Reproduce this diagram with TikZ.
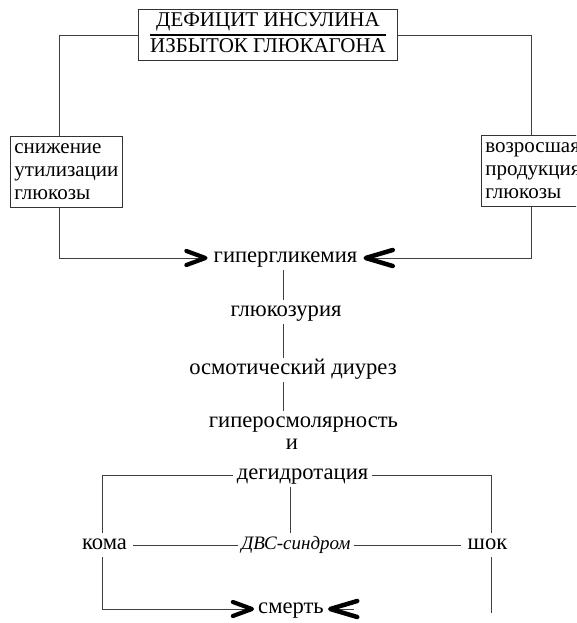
\documentclass[tikz,border=0pt]{standalone}
\usepackage{fontspec}
\setmainfont{Liberation Serif}
\usetikzlibrary{arrows.meta}
\begin{document}
\begin{tikzpicture}[x=1pt,y=-1pt,
  every node/.style={font=\fontsize{22.6}{24}\selectfont},
  conn/.style={draw=black!75,line width=0.8pt},
  chev/.style={-{Straight Barb[length=19pt,width=14pt,line width=4.2pt,round,color=black]}},
  chevb/.style={-{Straight Barb[length=27pt,width=16pt,line width=4.5pt,round,color=black]}},
  txt/.style={inner xsep=6pt,inner ysep=7pt,text height=9.5pt,text depth=0pt},
  sidebox/.style={draw=black!80,line width=0.8pt,align=left,inner xsep=4pt,inner ysep=0pt,
    minimum height=71pt,anchor=north west,font=\fontsize{21}{23}\selectfont}]
\clip (0,0) rectangle (576,623);
\useasboundingbox (0,0) rectangle (576,623);
% nodes
\node[draw=black!80,line width=0.8pt,inner xsep=11.5pt,inner ysep=1pt,font=\fontsize{21}{23}\selectfont] (top) at (268,35)
  {\setlength{\arrayrulewidth}{2.6pt}\setlength{\tabcolsep}{0pt}\renewcommand{\arraystretch}{1.0}%
   \begin{tabular}{c}ДЕФИЦИТ ИНСУЛИНА\\\hline ИЗБЫТОК ГЛЮКАГОНА\end{tabular}};
\node[sidebox] (lbox) at (10,136) {\raisebox{-2pt}{\parbox{104pt}{снижение\\утилизации\\глюкозы}}};
\node[sidebox,text width=115pt] (rbox) at (481,135) {\raisebox{-2pt}{\parbox{115pt}{возросшая\\продукция\\глюкозы}}};
\node[txt] (hyper) at (285.5,258) {гипергликемия};
\node[txt] (gluc) at (286,312) {глюкозурия};
\node[txt] (osm) at (293,370) {осмотический диурез};
\node[txt] (hosm) at (303.5,423) {гиперосмолярность};
\node[txt,inner ysep=2pt] (and) at (292,445) {и};
\node[txt,inner xsep=4pt] (dehyd) at (302.5,475) {дегидротация};
\node[txt] (koma) at (104.5,545) {кома};
\node[txt,inner xsep=3pt,font=\fontsize{19}{21}\selectfont\itshape] (dvs) at (296,545) {ДВС-синдром};
\node[txt] (shok) at (487.5,545) {шок};
\node[txt,inner xsep=4pt] (death) at (291,609) {смерть};
% helper coordinates
\coordinate (lx) at (59,0);
\coordinate (rx) at (531,0);
\coordinate (vx) at (283,0);
\coordinate (dx) at (290,0);
\coordinate (kx) at (102,0);
\coordinate (sx) at (491,0);
\coordinate (shokend) at (491,613);
\coordinate (deathr) at ([xshift=26pt]death.east);
% connectors
\draw[conn] (top.west) -| (lbox.north -| lx);
\draw[conn] (top.east) -| (rbox.north -| rx);
\draw[conn,chev] (lbox.south -| lx) |- (hyper.west);
\draw[conn,chevb] (rbox.south -| rx) |- (hyper.east);
\draw[conn] (hyper.south -| vx) -- (gluc.north -| vx);
\draw[conn] (gluc.south -| vx) -- (osm.north -| vx);
\draw[conn] (osm.south -| vx) -- (hosm.north -| vx);
\draw[conn] (dehyd.west) -| (koma.north -| kx);
\draw[conn] (dehyd.east) -| (shok.north -| sx);
\draw[conn] (dehyd.south -| dx) -- (dvs.north -| dx);
\draw[conn] (koma.east) -- (dvs.west);
\draw[conn] (dvs.east) -- (shok.west);
\draw[conn,chev] (koma.south -| kx) |- (death.west);
\draw[conn] (shok.south -| sx) -- (shokend);
\draw[conn,chevb] (deathr) -- (death.east);
\end{tikzpicture}
\end{document}
